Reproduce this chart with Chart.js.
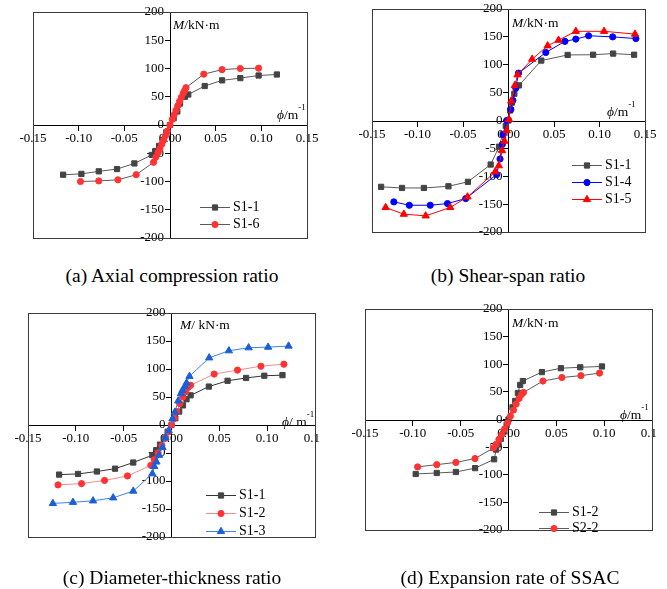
<!DOCTYPE html>
<html><head><meta charset="utf-8">
<script src="https://cdn.jsdelivr.net/npm/chart.js@4/dist/chart.umd.min.js"></script>
<style>
html,body{margin:0;padding:0;background:#fff;}
body{width:667px;height:589px;position:relative;overflow:hidden;font-family:"Liberation Serif","Times New Roman",serif;color:#000;}
.wrap{position:absolute;overflow:hidden;}
.wrap canvas{position:absolute;left:0;top:0;}
.t{position:absolute;font-size:13.5px;line-height:1;white-space:nowrap;transform:translateY(-50%);}
.t sup{font-size:9px;line-height:0;position:relative;top:-1px;vertical-align:top;}
.cap{position:absolute;font-size:19.5px;line-height:1;white-space:nowrap;transform:translate(-50%,-50%);}
</style>
</head><body>
<div class="wrap" style="left:0;top:0;width:334px;height:262px;"><canvas id="ca" width="334" height="262"></canvas></div>
<div class="wrap" style="left:334px;top:0;width:333px;height:262px;"><canvas id="cb" width="333" height="262"></canvas></div>
<div class="wrap" style="left:0;top:290px;width:320px;height:280px;"><canvas id="cc" width="340" height="280"></canvas></div>
<div class="wrap" style="left:334px;top:290px;width:323px;height:280px;"><canvas id="cd" width="340" height="280"></canvas></div>

<div class="t" style="left:173px;top:25px;"><i>M</i>/kN·m</div>
<div class="t" style="left:277px;top:115px;"><i>ϕ</i>/m<sup>-1</sup></div>
<div class="t" style="left:512px;top:23px;"><i>M</i>/kN·m</div>
<div class="t" style="left:607px;top:112px;"><i>ϕ</i>/m<sup>-1</sup></div>
<div class="t" style="left:180px;top:325px;"><i>M</i>/ kN·m</div>
<div class="t" style="left:282px;top:422px;"><i>ϕ</i>/ m<sup>-1</sup></div>
<div class="t" style="left:512px;top:323px;"><i>M</i>/kN·m</div>
<div class="t" style="left:620px;top:415px;"><i>ϕ</i>/m<sup>-1</sup></div>

<div class="cap" style="left:172px;top:276px;">(a) Axial compression ratio</div>
<div class="cap" style="left:508px;top:276px;">(b) Shear-span ratio</div>
<div class="cap" style="left:172px;top:578px;">(c) Diameter-thickness ratio</div>
<div class="cap" style="left:510px;top:578px;">(d) Expansion rate of SSAC</div>

<script>
// ---- tick values ----
const X_TICKS = [-0.15, -0.10, -0.05, 0, 0.05, 0.10, 0.15];
const Y_TICKS = [-200, -150, -100, -50, 0, 50, 100, 150, 200];

// ---- (a) Axial compression ratio : [phi, M] ----
const a_S1_1 = [[-0.117,-88],[-0.097,-86.5],[-0.078,-82],[-0.058,-78],[-0.039,-68],[-0.020,-53],[-0.016,-46],[-0.012,-37],[-0.008,-26],[-0.004,-13],[0,0],[0.004,12],[0.008,24],[0.011,38],[0.0164,50],[0.020,54],[0.038,69],[0.057,79],[0.077,83],[0.097,87.6],[0.117,89.4]];
const a_S1_6 = [[-0.098,-100],[-0.078,-99],[-0.057,-97],[-0.037,-88],[-0.018,-66],[-0.0155,-57],[-0.013,-49],[-0.011,-42],[-0.009,-34],[-0.007,-27],[-0.005,-19],[-0.003,-11],[0,0],[0.0025,10],[0.0045,18],[0.0065,26],[0.0085,34],[0.0105,42],[0.0125,49],[0.0145,56],[0.016,61],[0.0175,66],[0.037,90],[0.057,98],[0.077,100],[0.097,100.5]];

// ---- (b) Shear-span ratio ----
const b_S1_1 = [[-0.140,-119],[-0.117,-121],[-0.093,-121],[-0.066,-118],[-0.0446,-110],[-0.0196,-79],[-0.0104,-47],[-0.0064,-25],[-0.003,-10],[0,0],[0.0018,18],[0.0037,32],[0.0064,48],[0.0115,63],[0.036,107.5],[0.065,117.6],[0.093,118],[0.115,120],[0.138,118]];
const b_S1_4 = [[-0.126,-146],[-0.109,-152],[-0.086,-152],[-0.067,-149],[-0.047,-140],[-0.013,-97],[-0.0093,-69],[-0.0068,-43],[-0.0057,-25],[-0.002,0],[0.0026,20],[0.0048,36],[0.008,58],[0.011,85],[0.041,122],[0.062,142],[0.074,146],[0.088,152],[0.1145,150],[0.140,147]];
const b_S1_5 = [[-0.135,-156],[-0.115,-168],[-0.091,-171],[-0.064,-156],[-0.045,-137],[-0.0146,-92],[-0.0106,-81],[-0.007,-54],[-0.0044,-37],[-0.002,-18],[0.0005,2],[0.003,35],[0.007,63],[0.010,82],[0.026,110],[0.043,134],[0.055,144],[0.074,160],[0.105,160],[0.139,155]];

// ---- (c) Diameter-thickness ratio ----
const c_S1_1 = [[-0.1175,-88.6],[-0.0977,-87.4],[-0.078,-83],[-0.059,-78],[-0.040,-67],[-0.020,-54],[-0.016,-45],[-0.012,-35],[-0.008,-24],[-0.004,-12],[0,0],[0.004,12],[0.008,24],[0.012,35],[0.0157,46],[0.020,53],[0.039,68.6],[0.0586,79],[0.078,84],[0.097,88],[0.116,89]];
const c_S1_2 = [[-0.1186,-107],[-0.094,-104.6],[-0.070,-99],[-0.046,-91],[-0.0216,-72],[-0.018,-62],[-0.014,-50],[-0.010,-37],[-0.006,-23],[-0.003,-12],[0,0],[0.003,12],[0.0055,24],[0.0087,38],[0.012,50],[0.0148,60],[0.0174,67],[0.020,71],[0.0446,91],[0.069,98],[0.0935,105],[0.1175,108.6]];
const c_S1_3 = [[-0.124,-140],[-0.103,-138],[-0.082,-135.4],[-0.061,-130],[-0.040,-118],[-0.020,-87],[-0.018,-74],[-0.0157,-66],[-0.013,-54],[-0.0094,-40],[-0.0063,-23],[-0.003,-10],[0.001,11],[0.0035,23],[0.007,43],[0.0098,56],[0.0115,62],[0.014,69],[0.0157,75],[0.0188,87],[0.0394,120],[0.060,132.6],[0.0806,138],[0.101,139],[0.1224,141]];

// ---- (d) Expansion rate of SSAC ----
const d_S1_2 = [[-0.097,-98.6],[-0.075,-96.8],[-0.055,-95],[-0.0349,-88],[-0.015,-72],[-0.0129,-54.5],[-0.0105,-45],[-0.008,-35],[-0.005,-22],[-0.002,-10],[0,0],[0.0042,22],[0.007,33.6],[0.0098,48],[0.0122,62.6],[0.015,69.6],[0.0349,85.8],[0.0548,92.8],[0.075,94.5],[0.0977,96]];
const d_S2_2 = [[-0.095,-85.8],[-0.075,-81.7],[-0.055,-77.7],[-0.035,-70.7],[-0.0157,-51.6],[-0.013,-45],[-0.010,-36],[-0.007,-27],[-0.004,-17],[-0.001,-6],[0.002,6],[0.0052,17],[0.008,28],[0.011,38],[0.0135,45],[0.0157,49],[0.036,69.6],[0.0558,76],[0.0757,79.4],[0.0952,84]];

const FONT = '"Liberation Serif", serif';
Chart.defaults.font.family = FONT;
Chart.defaults.font.size = 13;
Chart.defaults.color = '#000';

function mkAxis(min, max, vals, fmt) {
  return {
    type: 'linear', position: 'center', min: min, max: max,
    afterBuildTicks: s => { s.ticks = vals.map(v => ({ value: v })); },
    grid: { display: true, drawOnChartArea: false, drawTicks: true, tickLength: 5, tickColor: '#000', tickWidth: 1 },
    border: { display: true, color: '#000', width: 1 },
    ticks: { color: '#000', font: { family: FONT, size: 13 }, autoSkip: false, maxRotation: 0, padding: 1, callback: fmt }
  };
}
const fmtX = v => (Math.abs(v) < 1e-9 ? '0.00' : Number(v).toFixed(2));
const fmtY = v => String(Math.round(v));

const framePlugin = {
  id: 'frame',
  beforeDatasetsDraw(chart) {
    const a = chart.chartArea, ctx = chart.ctx;
    ctx.save();
    ctx.strokeStyle = '#3a3a3a'; ctx.lineWidth = 1;
    ctx.strokeRect(Math.round(a.left) + 0.5, Math.round(a.top) + 0.5, Math.round(a.right - a.left), Math.round(a.bottom - a.top));
    ctx.restore();
  }
};

const legendPlugin = {
  id: 'lineLegend',
  afterDraw(chart, args, o) {
    const ctx = chart.ctx;
    ctx.save();
    chart.data.datasets.forEach((ds, i) => {
      const y = Math.round(o.y + i * o.dy) + 0.5;
      ctx.strokeStyle = ds.borderColor; ctx.lineWidth = 1;
      ctx.beginPath(); ctx.moveTo(o.x, y); ctx.lineTo(o.x + 30, y); ctx.stroke();
      ctx.fillStyle = ds.pointBackgroundColor; ctx.strokeStyle = ds.pointBorderColor;
      Chart.helpers.drawPoint(ctx, { pointStyle: ds.pointStyle, radius: ds.pointRadius, rotation: 0, borderWidth: 1 }, o.x + 15, y);
      ctx.fillStyle = '#000'; ctx.font = '14px ' + FONT; ctx.textBaseline = 'middle'; ctx.textAlign = 'left';
      ctx.fillText(ds.label, o.x + 33, y);
    });
    ctx.restore();
  }
};

function ds(label, arr, line, mark, style, order) {
  const r = style === 'rect' ? 3.7 : (style === 'triangle' ? 4.2 : 3.1);
  return {
    label: label, data: arr.map(p => ({ x: p[0], y: p[1] })), showLine: true,
    borderColor: line, borderWidth: 1, pointStyle: style, pointRadius: r,
    pointBackgroundColor: mark, pointBorderColor: mark, pointBorderWidth: 1, order: order
  };
}

function make(id, datasets, pad, leg) {
  return new Chart(document.getElementById(id), {
    type: 'scatter',
    data: { datasets: datasets },
    options: {
      responsive: false, animation: false,
      layout: { padding: pad },
      scales: { x: mkAxis(-0.15, 0.15, X_TICKS, fmtX), y: mkAxis(-200, 200, Y_TICKS, fmtY) },
      plugins: { legend: { display: false }, tooltip: { enabled: false }, lineLegend: leg }
    },
    plugins: [framePlugin, legendPlugin]
  });
}

const GRAY_L = '#5a5a5a', GRAY_M = '#444444', RED = '#ff3333';

make('ca', [
  ds('S1-1', a_S1_1, GRAY_L, GRAY_M, 'rect', 1),
  ds('S1-6', a_S1_6, GRAY_L, RED, 'circle', 0)
], { left: 33, right: 27, top: 12, bottom: 24 }, { x: 200, y: 207, dy: 16.7 });

make('cb', [
  ds('S1-1', b_S1_1, '#5a5a5a', GRAY_M, 'rect', 2),
  ds('S1-4', b_S1_4, '#0000ff', '#0000ff', 'circle', 1),
  ds('S1-5', b_S1_5, '#ff0000', '#ff0000', 'triangle', 0)
], { left: 38, right: 22, top: 9, bottom: 30 }, { x: 238, y: 165, dy: 17.2 });

make('cc', [
  ds('S1-1', c_S1_1, '#333333', GRAY_M, 'rect', 2),
  ds('S1-2', c_S1_2, '#f28b8b', RED, 'circle', 1),
  ds('S1-3', c_S1_3, '#3b82f0', '#1a5fd8', 'triangle', 0)
], { left: 28, right: 25, top: 23, bottom: 33 }, { x: 206, y: 205, dy: 17.8 });

make('cd', [
  ds('S1-2', d_S1_2, GRAY_L, GRAY_M, 'rect', 1),
  ds('S2-2', d_S2_2, GRAY_L, RED, 'circle', 0)
], { left: 31, right: 22, top: 19, bottom: 40 }, { x: 205, y: 222, dy: 15.6 });
</script>
</body></html>
